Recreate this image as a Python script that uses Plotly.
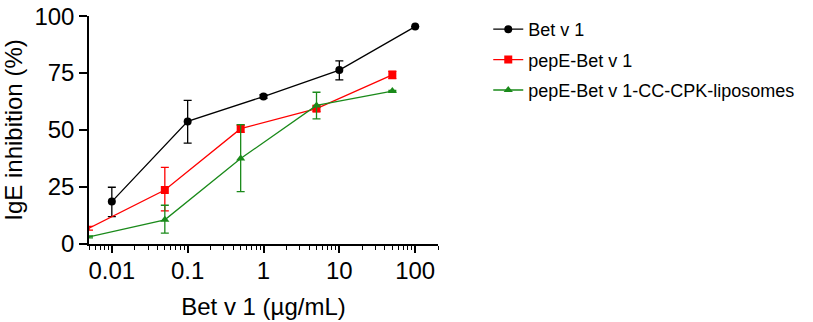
import plotly.graph_objects as go

# Data
bet_x = [0.01, 0.1, 1, 10, 100]
bet_y = [18.6, 53.8, 64.7, 76.3, 95.4]
bet_err_plus = [6.3, 9.2, 0.8, 4.1, 0.0]
bet_err_minus = [6.6, 9.5, 0.8, 4.3, 0.0]

pep_x = [0.005, 0.05, 0.5, 5, 50]
pep_y = [6.9, 23.7, 50.6, 59.4, 74.2]
pep_err_plus = [0.8, 9.9, 1.6, 1.2, 1.6]
pep_err_minus = [0.8, 9.2, 1.6, 1.2, 1.6]

lip_x = [0.005, 0.05, 0.5, 5, 50]
lip_y = [3.1, 10.6, 37.5, 60.8, 67.1]
lip_err_plus = [0.4, 6.4, 14.9, 5.8, 0.3]
lip_err_minus = [0.4, 5.8, 14.5, 5.9, 0.3]

x_tickvals = [0.01, 0.1, 1, 10, 100]
x_ticktext = ["0.01", "0.1", "1", "10", "100"]
y_tickvals = [0, 25, 50, 75, 100]

names = ["Bet v 1", "pepE-Bet v 1", "pepE-Bet v 1-CC-CPK-liposomes"]
colors = ["#000000", "#FF0000", "#1A8A1A"]
symbols = ["circle", "square", "triangle-up"]
sizes = [8, 8, 8]

FONT = "Liberation Sans, Arial, sans-serif"

# minor tick positions on the log axis (2..9 within each decade)
minor_vals = []
for dec in [0.001, 0.01, 0.1, 1, 10, 100]:
    for m in range(2, 10):
        v = m * dec
        if 0.0049 <= v <= 201:
            minor_vals.append(v)

all_vals = sorted(x_tickvals + minor_vals)
all_text = [x_ticktext[x_tickvals.index(v)] if v in x_tickvals else "" for v in all_vals]

XRANGE = [-2.301, 2.301]

fig = go.Figure()
series = [
    (bet_x, bet_y, bet_err_plus, bet_err_minus),
    (pep_x, pep_y, pep_err_plus, pep_err_minus),
    (lip_x, lip_y, lip_err_plus, lip_err_minus),
]
for i, (xs, ys, ep, em) in enumerate(series):
    fig.add_trace(go.Scatter(
        x=xs, y=ys, name=names[i], mode="lines+markers",
        line=dict(color=colors[i], width=1.3),
        marker=dict(color=colors[i], symbol=symbols[i], size=sizes[i]),
        error_y=dict(type="data", array=ep, arrayminus=em, visible=True,
                     color=colors[i], thickness=1.3, width=4),
        cliponaxis=False, legendgroup=f"g{i}",
    ))

# helper trace on an overlaid axis that carries the longer major ticks
fig.add_trace(go.Scatter(x=bet_x, y=bet_y, xaxis="x2", yaxis="y",
                         mode="markers", marker=dict(opacity=0),
                         showlegend=False, hoverinfo="skip"))

fig.update_layout(
    width=813, height=322,
    margin=dict(l=89, r=375, t=11, b=78),
    paper_bgcolor="white", plot_bgcolor="white",
    font=dict(family=FONT, color="black"),
    showlegend=True,
    legend=dict(x=1.144, y=1.022, xanchor="left", yanchor="top",
                font=dict(size=18, family=FONT), tracegroupgap=4,
                bgcolor="rgba(0,0,0,0)", itemwidth=30),
    xaxis=dict(
        type="log", range=XRANGE, automargin=False,
        tickmode="array", tickvals=all_vals, ticktext=all_text,
        ticks="outside", ticklen=4, tickwidth=1.3, tickcolor="black",
        showline=True, linecolor="black", linewidth=1.5,
        showgrid=False, zeroline=False,
        tickfont=dict(size=24, family=FONT), ticklabeloverflow="allow",
        title=dict(text="Bet v 1 (µg/mL)", font=dict(size=24, family=FONT), standoff=16),
    ),
    xaxis2=dict(type="log", range=XRANGE, overlaying="x", anchor="y", side="bottom",
                automargin=False, tickmode="array", tickvals=x_tickvals,
                ticks="outside", ticklen=8, tickwidth=1.5, tickcolor="black",
                showline=False, showgrid=False, zeroline=False,
                showticklabels=False),
)
fig.update_yaxes(
    range=[0, 100.05], automargin=False,
    tickmode="array", tickvals=y_tickvals,
    ticks="outside", ticklen=8, tickwidth=1.5, tickcolor="black",
    showline=True, linecolor="black", linewidth=1.5,
    showgrid=False, zeroline=False,
    tickfont=dict(size=24, family=FONT), ticklabeloverflow="allow",
    title=dict(text="IgE inhibition (%)", font=dict(size=24, family=FONT), standoff=18),
)

fig.write_html("out.html", config={"displayModeBar": False},
               post_script="document.body.style.margin='0';")
